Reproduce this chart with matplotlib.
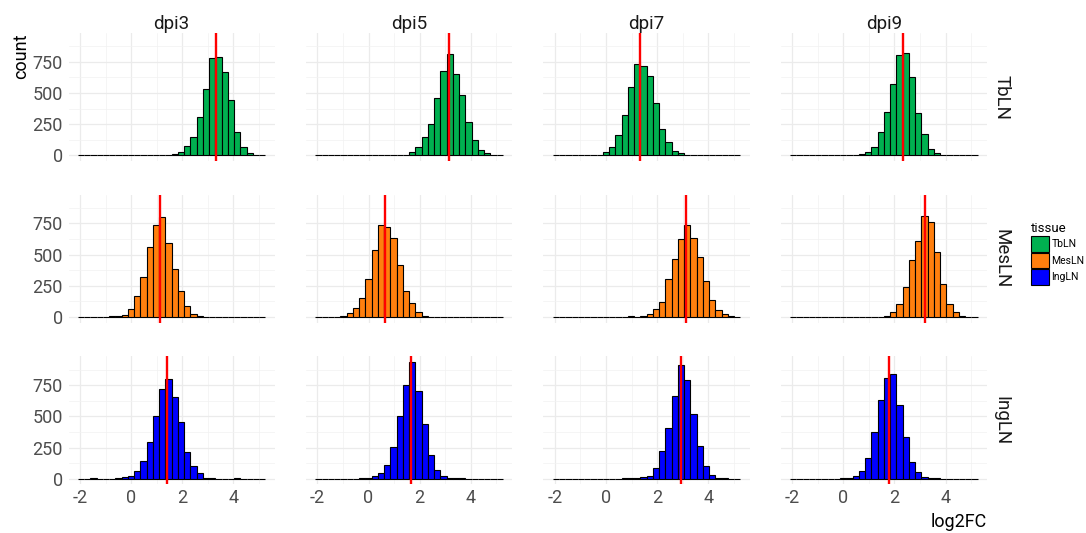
import numpy as np
import matplotlib
matplotlib.use("Agg")
import matplotlib.pyplot as plt
from matplotlib.patches import Patch

plt.rcParams['font.family'] = ['Roboto', 'DejaVu Sans']
plt.rcParams['axes.unicode_minus'] = False

# histogram bins (30 bins shared by all panels)
bin_start = -2.08
bin_width = 0.2445
n_bins = 30

days = ['dpi3', 'dpi5', 'dpi7', 'dpi9']
tissues = ['TbLN', 'MesLN', 'IngLN']
tissue_colors = ['#00B050', '#FF7F0E', '#0000FF']

# counts per bin
tbln_dpi3 = [0, 0, 0, 0, 0, 0, 0, 0, 0, 0, 0, 2, 0, 1, 3, 8, 25, 75, 147, 310,
             528, 777, 785, 670, 443, 187, 67, 16, 3, 0]
tbln_dpi5 = [0, 0, 0, 0, 0, 0, 0, 0, 0, 0, 2, 0, 2, 3, 6, 27, 67, 150, 251, 462,
             673, 809, 651, 486, 267, 120, 45, 16, 3, 0]
tbln_dpi7 = [0, 0, 0, 2, 0, 0, 3, 5, 24, 69, 165, 326, 545, 734, 718, 633, 422, 208, 107, 37,
             19, 6, 4, 0, 0, 2, 0, 0, 0, 0]
tbln_dpi9 = [0, 0, 0, 0, 0, 0, 0, 3, 0, 3, 4, 11, 27, 69, 184, 344, 574, 801, 817, 625,
             336, 171, 51, 16, 5, 0, 0, 0, 0, 0]

mesln_dpi3 = [0, 0, 0, 0, 2, 6, 11, 16, 67, 168, 317, 561, 734, 801, 596, 383, 205, 85, 24, 6,
              2, 0, 0, 0, 0, 0, 0, 0, 0, 0]
mesln_dpi5 = [0, 0, 1, 3, 8, 29, 69, 149, 303, 537, 739, 718, 633, 415, 210, 109, 40, 5, 3, 1,
              0, 0, 0, 0, 0, 0, 0, 0, 0, 0]
mesln_dpi7 = [0, 0, 0, 0, 0, 0, 0, 0, 0, 0, 0, 3, 4, 3, 8, 24, 67, 120, 301, 468,
              625, 734, 636, 479, 287, 136, 56, 27, 5, 3]
mesln_dpi9 = [0, 0, 0, 0, 0, 0, 0, 0, 0, 0, 0, 0, 0, 0, 3, 11, 40, 107, 242, 460,
              612, 811, 758, 524, 263, 107, 40, 5, 1, 0]

ingln_dpi3 = [0, 0, 2, 0, 0, 0, 5, 13, 24, 61, 141, 294, 499, 721, 801, 654, 451, 216, 101, 48,
              5, 4, 0, 0, 0, 3, 0, 0, 0, 0]
ingln_dpi5 = [0, 0, 0, 0, 0, 0, 0, 3, 8, 19, 45, 109, 251, 502, 753, 934, 700, 435, 192, 67,
              19, 8, 4, 2, 0, 0, 0, 0, 0, 0]
ingln_dpi7 = [0, 0, 0, 0, 0, 0, 0, 0, 0, 0, 0, 3, 3, 5, 13, 21, 85, 219, 406, 665,
              913, 793, 518, 259, 99, 29, 5, 3, 0, 0]
ingln_dpi9 = [0, 0, 0, 0, 0, 0, 0, 0, 4, 6, 19, 64, 168, 371, 630, 809, 836, 587, 331, 136,
              56, 16, 4, 3, 0, 0, 0, 0, 0, 0]

# red reference lines (one per panel)
tbln_lines = [3.33, 3.14, 1.35, 2.33]
mesln_lines = [1.14, 0.66, 3.13, 3.18]
ingln_lines = [1.41, 1.65, 2.95, 1.80]

counts = [[tbln_dpi3, tbln_dpi5, tbln_dpi7, tbln_dpi9],
          [mesln_dpi3, mesln_dpi5, mesln_dpi7, mesln_dpi9],
          [ingln_dpi3, ingln_dpi5, ingln_dpi7, ingln_dpi9]]
vlines = [tbln_lines, mesln_lines, ingln_lines]

edges = bin_start + bin_width * np.arange(n_bins + 1)
ymax = max(max(c) for row in counts for c in row)

W, H = 1086, 533
fig, axes = plt.subplots(3, 4, figsize=(W / 100, H / 100), dpi=100, sharex=True, sharey=True,
                         gridspec_kw=dict(left=68.5 / W, right=987 / W, top=1 - 33 / H,
                                          bottom=1 - 484.5 / H, wspace=0.151, hspace=0.262))

for i, tissue in enumerate(tissues):
    for j, day in enumerate(days):
        ax = axes[i, j]
        ax.bar(edges[:-1], counts[i][j], width=bin_width, align='edge',
               color=tissue_colors[i], edgecolor='black', linewidth=0.8, zorder=2)
        ax.axvline(vlines[i][j], color='#FF0000', lw=1.7, zorder=3)
        ax.set_xlim(-2.45, 5.62)
        ax.set_ylim(-0.05 * ymax, 1.05 * ymax)
        ax.set_xticks([-2, 0, 2, 4])
        ax.set_xticks([-1, 1, 3, 5], minor=True)
        ax.set_yticks([0, 250, 500, 750])
        ax.set_yticks([125, 375, 625, 875], minor=True)
        ax.grid(which='major', color='#EBEBEB', lw=0.9, zorder=0)
        ax.grid(which='minor', color='#F2F2F2', lw=0.5, zorder=0)
        ax.set_axisbelow(True)
        for s in ax.spines.values():
            s.set_visible(False)
        ax.tick_params(which='both', length=0, labelsize=13, colors='#4D4D4D')
        ax.tick_params(axis='y', pad=4)
        ax.tick_params(axis='x', pad=3)
        if i == 0:
            ax.set_title(day, fontsize=13.5, color='#1A1A1A', pad=3)
        if j == 3:
            ax.text(1.025, 0.5, tissue, transform=ax.transAxes, rotation=-90,
                    ha='left', va='center', fontsize=13.5, color='#1A1A1A')

fig.text(12 / W, 1 - 33 / H, 'count', rotation=90, ha='left', va='top', fontsize=13)
fig.text(987 / W, 1 - 531 / H, 'log2FC', ha='right', va='bottom', fontsize=13)

handles = [Patch(facecolor=c, edgecolor='black', linewidth=0.8) for c in tissue_colors]
leg = fig.legend(handles, tissues, title='tissue', loc='upper left',
                 bbox_to_anchor=(1027 / W, 1 - 218 / H), frameon=False, fontsize=7.5,
                 title_fontsize=9.5, handlelength=1.75, handleheight=1.95,
                 labelspacing=0.08, handletextpad=0.2, borderaxespad=0)
leg._legend_box.align = 'left'

fig.savefig('out.png', dpi=100)
